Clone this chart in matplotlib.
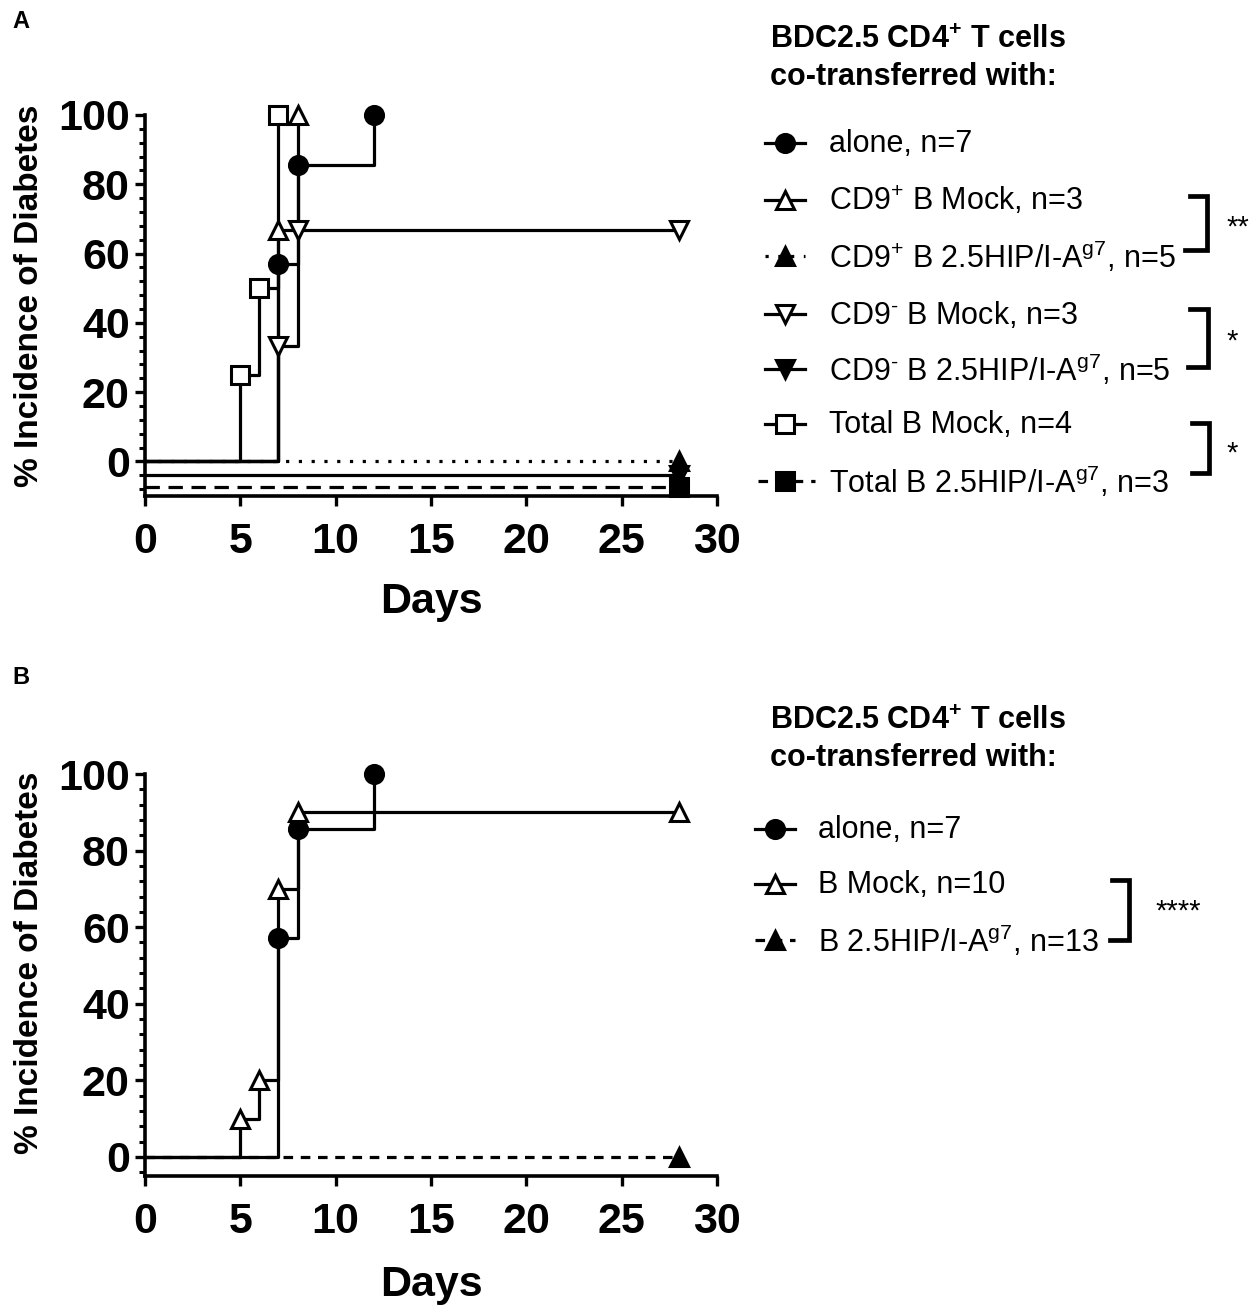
import matplotlib
matplotlib.use("Agg")
import matplotlib.pyplot as plt
from matplotlib.lines import Line2D
from matplotlib.ticker import MultipleLocator

plt.rcParams['font.family'] = ['Liberation Sans', 'DejaVu Sans']
plt.rcParams['mathtext.fontset'] = 'custom'
plt.rcParams['mathtext.rm'] = 'Liberation Sans'
plt.rcParams['mathtext.bf'] = 'Liberation Sans:bold'
plt.rcParams['mathtext.it'] = 'Liberation Sans:italic'

# ---------------- data (Kaplan-Meier style, % incidence) ----------------
# Panel A
alone_days = [0, 7, 8, 12]
alone_pct = [0, 57.1, 85.7, 100]
cd9p_mock_days = [0, 7, 8]
cd9p_mock_pct = [0, 66.7, 100]
cd9p_hip_days = [0, 28]
cd9p_hip_pct = [0, 0]
cd9n_mock_days = [0, 7, 8, 28]
cd9n_mock_pct = [0, 33.3, 66.7, 66.7]
cd9n_hip_days = [0, 28]
cd9n_hip_pct = [0, 0]
totb_mock_days = [0, 5, 6, 7]
totb_mock_pct = [0, 25, 50, 100]
totb_hip_days = [0, 28]
totb_hip_pct = [0, 0]
# Panel B
bmock_days = [0, 5, 6, 7, 8, 28]
bmock_pct = [0, 10, 20, 70, 90, 90]
bhip_days = [0, 28]
bhip_pct = [0, 0]

labels_A = ["alone, n=7",
            r"CD9$^{\mathrm{+}}$ B Mock, n=3",
            r"CD9$^{\mathrm{+}}$ B 2.5HIP/I-A$^{\mathrm{g7}}$, n=5",
            r"CD9$^{\text{-}}$ B Mock, n=3",
            r"CD9$^{\text{-}}$ B 2.5HIP/I-A$^{\mathrm{g7}}$, n=5",
            "Total B Mock, n=4",
            r"Total B 2.5HIP/I-A$^{\mathrm{g7}}$, n=3"]
labels_B = ["alone, n=7",
            "B Mock, n=10",
            r"B 2.5HIP/I-A$^{\mathrm{g7}}$, n=13"]
legend_title = [r"BDC2.5 CD4$^{\mathbf{+}}$ T cells", "co-transferred with:"]
sig_A = ["**", "*", "*"]
sig_B = ["****"]
xticks = [0, 5, 10, 15, 20, 25, 30]
yticks = [0, 20, 40, 60, 80, 100]

# ---------------- styles ----------------
LW = 2.3
MS = 13
MEW = 2.2
DOT = (0, (1, 3))
DASH_A = (0, (4.5, 2.7))
DASH_B = (0, (3, 2.4))

sty_A = [
    dict(marker='o', mfc='k', ls='-', off=0),
    dict(marker='^', mfc='white', ls='-', off=0),
    dict(marker='^', mfc='k', ls=DOT, off=0),
    dict(marker='v', mfc='white', ls='-', off=0),
    dict(marker='v', mfc='k', ls='-', off=-4),
    dict(marker='s', mfc='white', ls='-', off=0),
    dict(marker='s', mfc='k', ls=DASH_A, off=-7.5),
]
series_A = [(alone_days, alone_pct), (cd9p_mock_days, cd9p_mock_pct),
            (cd9p_hip_days, cd9p_hip_pct), (cd9n_mock_days, cd9n_mock_pct),
            (cd9n_hip_days, cd9n_hip_pct), (totb_mock_days, totb_mock_pct),
            (totb_hip_days, totb_hip_pct)]
sty_B = [
    dict(marker='o', mfc='k', ls='-', off=0),
    dict(marker='^', mfc='white', ls='-', off=0),
    dict(marker='^', mfc='k', ls=DASH_B, off=0),
]
series_B = [(alone_days, alone_pct), (bmock_days, bmock_pct), (bhip_days, bhip_pct)]

W, H = 1255, 1310
fig = plt.figure(figsize=(W / 100, H / 100), dpi=100)


def make_axes(top_px, bottom_px, ymin):
    ax = fig.add_axes([145 / W, 1 - bottom_px / H, (717 - 145) / W, (bottom_px - top_px) / H])
    ax.set_xlim(0, 30)
    ax.set_ylim(ymin, 100)
    for s in ['top', 'right']:
        ax.spines[s].set_visible(False)
    for s in ['left', 'bottom']:
        ax.spines[s].set_linewidth(2.6)
    ax.spines['left'].set_bounds(ymin, 100)
    ax.set_xticks(xticks)
    ax.set_yticks(yticks)
    ax.yaxis.set_minor_locator(MultipleLocator(4))
    ax.tick_params(axis='both', which='major', length=7.5, width=2.4, labelsize=31)
    ax.tick_params(axis='x', which='major', pad=11.5)
    ax.tick_params(axis='y', which='major', pad=3.5)
    ax.tick_params(axis='y', which='minor', length=4.5, width=2.2)
    for lab in ax.get_xticklabels() + ax.get_yticklabels():
        lab.set_fontweight('bold')
    ax.set_xlabel("Days", fontsize=31, fontweight='bold')
    ax.set_ylabel("% Incidence of Diabetes", fontsize=24, fontweight='bold')
    return ax


def draw(ax, series, styles):
    for (d, p), st in zip(series, styles):
        y = [v + st['off'] for v in p]
        ax.step(d, y, where='post', color='k', lw=LW, ls=st['ls'], clip_on=False,
                dash_capstyle='butt', zorder=2)
        ax.plot(d[1:], y[1:], ls='none', marker=st['marker'], ms=MS, mfc=st['mfc'],
                mec='k', mew=MEW, clip_on=False, zorder=3)


axA = make_axes(115, 496, -10)
axB = make_axes(774, 1176, -5)
draw(axA, series_A, sty_A)
draw(axB, series_B, sty_B)
axA.xaxis.set_label_coords(0.5, -0.226)
axB.xaxis.set_label_coords(0.5, -0.221)
axA.yaxis.set_label_coords(-0.175, 0.525)
axB.yaxis.set_label_coords(-0.175, 0.53)

# ---------------- legends (overlay, pixel coords) ----------------
ov = fig.add_axes([0, 0, 1, 1])
ov.set_xlim(0, W)
ov.set_ylim(H, 0)
ov.axis('off')


def legend(title_base, entry_ys, labels, styles, hx0, hx1, tx, wide_dash=None):
    ov.text(770, title_base[0], legend_title[0], fontsize=22, fontweight='bold', va='baseline', ha='left')
    ov.text(770, title_base[1], legend_title[1], fontsize=22, fontweight='bold', va='baseline', ha='left')
    for i, (y, lab, st) in enumerate(zip(entry_ys, labels, styles)):
        x0, x1, ls = hx0, hx1, st['ls']
        if wide_dash is not None and i == wide_dash:
            x0, x1, ls = hx0 - 7, hx1 + 10, (0, (3, 2.5))
        ov.add_line(Line2D([x0, x1], [y, y], color='k', lw=LW, ls=ls, dash_capstyle='butt'))
        ov.plot([(hx0 + hx1) / 2], [y], marker=st['marker'], ms=MS, mfc=st['mfc'], mec='k', mew=MEW)
        ov.text(tx, y + 1, lab, fontsize=22, va='center', ha='left')


def bracket(x, y0, y1, xl0, xl1, star, sx, sy):
    ov.plot([xl0, x, x, xl1], [y0, y0, y1, y1], color='k', lw=3.4, solid_joinstyle='miter')
    ov.text(sx, sy, star, fontsize=21, ha='center', va='center')


legend([48, 85], [143, 200, 256, 314, 369, 424, 481], labels_A, sty_A, 765, 805, 829, wide_dash=6)
bracket(1207, 196, 250, 1190, 1185, sig_A[0], 1238, 228)
bracket(1208, 309, 367, 1190, 1188, sig_A[1], 1232, 342)
bracket(1209, 423, 473, 1192, 1192, sig_A[2], 1232, 454)

legend([729, 766], [829, 884, 940], labels_B, sty_B, 755, 795, 818)
bracket(1129, 880, 940, 1112, 1110, sig_B[0], 1178, 912)

fig.text(12 / W, 1 - 22 / H, "A", fontsize=17, fontweight='bold', va='center', ha='left')
fig.text(12 / W, 1 - 677 / H, "B", fontsize=17, fontweight='bold', va='center', ha='left')

fig.savefig("out.png", dpi=100)
